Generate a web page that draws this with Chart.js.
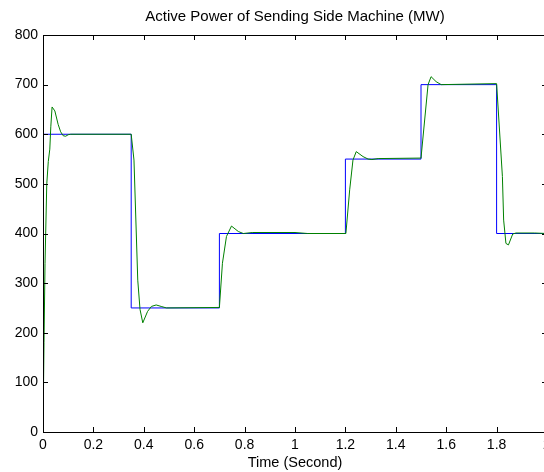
<!DOCTYPE html>
<html>
<head>
<meta charset="utf-8">
<script src="https://cdn.jsdelivr.net/npm/chart.js@4.4.1/dist/chart.umd.min.js"></script>
<style>
  html, body { margin: 0; padding: 0; background: #fff; overflow: hidden; }
  #wrap { width: 544px; height: 472px; overflow: hidden; }
</style>
</head>
<body>
<div id="wrap"><canvas id="chart" width="556" height="472"></canvas></div>
<script>
// reference (set point) power, step changes
const refTime = [0, 0.35, 0.7, 1.2, 1.5, 1.8, 2];
const refPower = [600, 250, 400, 550, 700, 400, 400];

// simulated machine response
const simTime = [0, 0.004, 0.008, 0.015, 0.021, 0.027, 0.031, 0.036, 0.047, 0.06,
  0.07, 0.08, 0.09, 0.1, 0.11, 0.35, 0.361, 0.376, 0.385, 0.396,
  0.415, 0.43, 0.449, 0.469, 0.49, 0.7, 0.712, 0.728, 0.748, 0.775,
  0.795, 0.83, 1.0, 1.05, 1.202, 1.217, 1.23, 1.243, 1.27, 1.29,
  1.305, 1.33, 1.5, 1.528, 1.54, 1.56, 1.58, 1.8, 1.823, 1.828,
  1.837, 1.847, 1.864, 1.877, 1.95, 2];
const simPower = [0, 180, 340, 500, 545, 570, 615, 655, 647, 620,
  605, 597, 596, 599, 600, 600, 548, 306, 247, 220,
  243, 253, 256, 253, 250, 251, 340, 394, 415, 404,
  400, 402, 402, 400, 400, 488, 548, 565, 555, 550,
  549, 551, 552, 700, 716, 706, 700, 702, 515, 427,
  380, 377, 399, 401, 401, 400];

const xTicks = [0, 0.2, 0.4, 0.6, 0.8, 1, 1.2, 1.4, 1.6, 1.8, 2];
const yTicks = [0, 100, 200, 300, 400, 500, 600, 700, 800];

const FONT = "'Liberation Sans', Arial, Helvetica, sans-serif";

// matlab style box with inward ticks on all sides
const frameTicks = {
  id: "frameTicks",
  afterDatasetsDraw(chart) {
    const { ctx, chartArea: a, scales } = chart;
    ctx.save();
    ctx.strokeStyle = "#000";
    ctx.lineWidth = 1;
    ctx.beginPath();
    xTicks.forEach((v) => {
      const x = Math.round(scales.x.getPixelForValue(v)) + 0.5;
      ctx.moveTo(x, a.bottom);
      ctx.lineTo(x, a.bottom - 5);
      ctx.moveTo(x, a.top);
      ctx.lineTo(x, a.top + 5);
    });
    yTicks.forEach((v) => {
      const y = Math.round(scales.y.getPixelForValue(v)) + 0.5;
      ctx.moveTo(a.left, y);
      ctx.lineTo(a.left + 5, y);
      ctx.moveTo(a.right, y);
      ctx.lineTo(a.right - 5, y);
    });
    ctx.stroke();
    ctx.strokeRect(Math.round(a.left) + 0.5, Math.round(a.top) + 0.5,
      Math.round(a.width), Math.round(a.height));
    ctx.restore();
  },
};

new Chart(document.getElementById("chart"), {
  type: "line",
  data: {
    datasets: [
      {
        label: "reference",
        data: refTime.map((t, i) => ({ x: t, y: refPower[i] })),
        borderColor: "#0000ff",
        borderWidth: 1,
        pointRadius: 0,
        stepped: "before",
        order: 1,
      },
      {
        label: "machine",
        data: simTime.map((t, i) => ({ x: t, y: simPower[i] })),
        borderColor: "#008000",
        borderWidth: 1,
        pointRadius: 0,
        tension: 0,
        order: 0,
      },
    ],
  },
  options: {
    responsive: false,
    animation: false,
    layout: { padding: { left: 0, right: 9, top: 0, bottom: 0 } },
    plugins: {
      legend: { display: false },
      tooltip: { enabled: false },
      title: { display: false },
    },
    scales: {
      x: {
        type: "linear",
        min: 0,
        max: 2,
        afterFit: (s) => { s.height = 40; },
        afterBuildTicks: (s) => { s.ticks = xTicks.map((v) => ({ value: v })); },
        grid: { display: false, drawTicks: false },
        border: { display: false },
        ticks: {
          color: "#000",
          padding: 5,
          maxRotation: 0,
          autoSkip: false,
          font: { family: FONT, size: 14 },
          callback: (v) => String(+v.toFixed(1)),
        },
        title: {
          display: true,
          text: "Time (Second)",
          color: "#000",
          font: { family: FONT, size: 14.5 },
          padding: { top: 0, bottom: 0 },
        },
      },
      // top axis only carries the plot title, centred over the plot area
      top: {
        type: "linear",
        position: "top",
        min: 0,
        max: 2,
        afterFit: (s) => { s.height = 35; },
        grid: { display: false, drawTicks: false },
        border: { display: false },
        ticks: { display: false },
        title: {
          display: true,
          text: "Active Power of Sending Side Machine (MW)",
          color: "#000",
          font: { family: FONT, size: 15 },
          padding: { top: 8, bottom: 0 },
        },
      },
      y: {
        min: 0,
        max: 800,
        afterFit: (s) => { s.width = 43; },
        afterBuildTicks: (s) => { s.ticks = yTicks.map((v) => ({ value: v })); },
        grid: { display: false, drawTicks: false },
        border: { display: false },
        ticks: {
          color: "#000",
          padding: 5,
          font: { family: FONT, size: 14 },
        },
      },
    },
  },
  plugins: [frameTicks],
});
</script>
</body>
</html>
